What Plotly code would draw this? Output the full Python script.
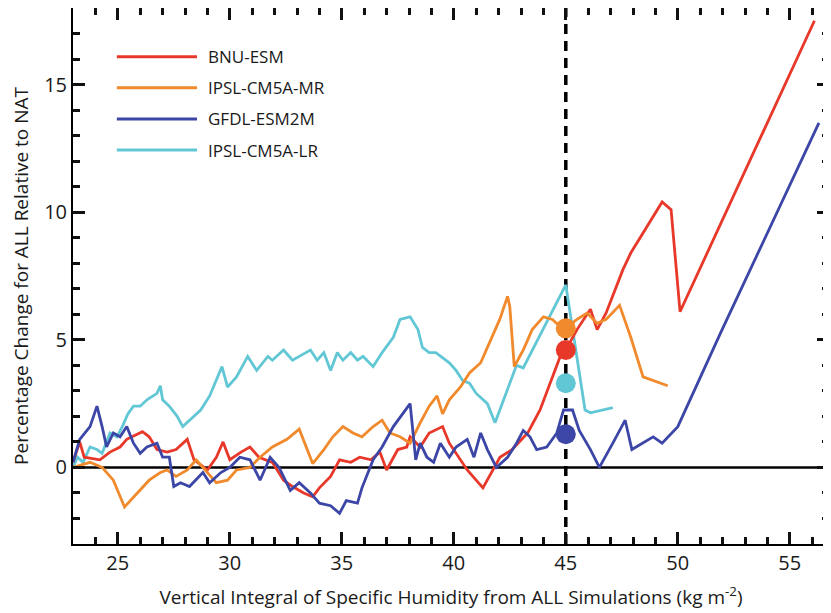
import plotly.graph_objects as go

# BNU-ESM
bnu_x = [23.0, 23.3, 23.5, 24.2, 24.65, 25.1, 25.4, 25.86, 26.1, 26.4, 26.75, 27.2, 27.6, 28.1, 28.4, 29.0,
         29.4, 29.7, 30.0, 30.5, 30.9, 31.3, 31.9, 32.4, 32.8, 33.3, 33.7, 34.0, 34.5, 34.9, 35.4, 35.8,
         36.3, 36.7, 37.0, 37.5, 37.9, 38.05, 38.5, 38.9, 39.5, 39.8, 40.6, 41.3, 42.06, 42.6, 43.3, 43.85,
         44.3, 44.75, 45.0, 45.5, 46.1, 46.4, 46.8, 47.55, 47.9, 49.3, 49.7, 50.1, 56.1]
bnu_y = [0.2, 1.0, 0.4, 0.3, 0.6, 0.8, 1.1, 1.3, 1.4, 1.2, 0.7, 0.6, 0.7, 1.1, 0.3, -0.1,
         0.4, 1.0, 0.3, 0.6, 0.8, 0.4, 0.2, -0.5, -0.75, -1.0, -1.15, -0.8, -0.35, 0.3, 0.2, 0.4,
         0.3, 0.6, -0.1, 0.7, 0.8, 1.2, 0.8, 1.35, 1.6, 0.95, -0.1, -0.8, 0.4, 0.7, 1.35, 2.25,
         3.3, 4.35, 4.6, 5.4, 6.2, 5.4, 6.05, 7.75, 8.4, 10.4, 10.1, 6.1, 17.5]

# IPSL-CM5A-MR
mr_x = [23.0, 23.76, 24.3, 24.8, 25.3, 25.86, 26.4, 26.9, 27.2, 27.6, 28.1, 28.5, 29.0, 29.4, 29.9, 30.3,
        30.9, 31.35, 31.9, 32.55, 33.1, 33.4, 33.7, 34.2, 34.6, 35.05, 35.5, 35.9, 36.4, 36.8, 37.15, 37.6,
        38.05, 38.5, 38.9, 39.25, 39.5, 39.8, 40.3, 40.7, 41.2, 41.6, 42.05, 42.4, 42.5, 42.7, 43.1, 43.5,
        44.0, 44.4, 44.9, 45.5, 45.95, 46.4, 46.8, 47.4, 47.9, 48.45, 49.55]
mr_y = [0.0, 0.2, 0.0, -0.5, -1.55, -1.0, -0.5, -0.2, -0.1, -0.35, -0.1, 0.3, -0.2, -0.6, -0.5, -0.1,
        0.0, 0.4, 0.8, 1.1, 1.5, 0.8, 0.15, 0.7, 1.2, 1.6, 1.35, 1.2, 1.6, 1.85, 1.35, 1.2,
        0.95, 1.75, 2.4, 2.8, 2.1, 2.65, 3.15, 3.7, 4.1, 4.9, 5.8, 6.7, 6.3, 3.95, 4.6, 5.4,
        5.9, 5.8, 5.4, 5.8, 6.05, 5.65, 5.8, 6.35, 5.1, 3.55, 3.2]

# GFDL-ESM2M
gfdl_x = [23.0, 23.3, 23.76, 24.07, 24.3, 24.5, 24.8, 25.1, 25.4, 25.7, 26.0, 26.3, 26.75, 27.0, 27.3, 27.5,
          27.8, 28.2, 28.8, 29.1, 29.6, 30.0, 30.45, 30.9, 31.35, 31.8, 32.2, 32.7, 33.1, 33.6, 34.0, 34.5,
          34.9, 35.2, 35.7, 35.9, 36.4, 36.8, 37.3, 37.7, 38.05, 38.3, 38.5, 38.8, 39.1, 39.4, 39.8, 40.1,
          40.6, 40.9, 41.2, 41.5, 41.9, 42.4, 42.8, 43.1, 43.4, 43.7, 44.15, 44.6, 44.9, 45.3, 45.6, 46.1,
          46.5, 47.1, 47.65, 47.95, 48.45, 48.9, 49.3, 50.0, 51.9, 56.3]
gfdl_y = [0.2, 1.1, 1.6, 2.4, 1.6, 0.8, 1.35, 1.2, 1.6, 0.95, 0.55, 0.8, 0.95, 0.4, 0.4, -0.75,
          -0.6, -0.75, -0.2, -0.6, -0.2, 0.0, 0.4, 0.3, -0.5, 0.4, 0.0, -0.9, -0.6, -1.0, -1.4, -1.5,
          -1.8, -1.3, -1.4, -0.8, 0.3, 0.8, 1.6, 2.1, 2.5, 0.3, 0.95, 0.4, 0.2, 0.95, 0.4, 0.8,
          1.1, 0.4, 1.35, 0.7, 0.0, 0.4, 0.95, 1.45, 1.2, 0.7, 0.8, 1.35, 2.25, 2.25, 1.45, 0.7,
          0.0, 0.95, 1.85, 0.7, 0.95, 1.2, 0.95, 1.6, 5.25, 13.5]

# IPSL-CM5A-LR
lr_x = [23.0, 23.2, 23.45, 23.76, 24.07, 24.3, 24.65, 24.96, 25.2, 25.45, 25.7, 26.0, 26.3, 26.75, 26.9, 27.0,
        27.3, 27.65, 27.9, 28.2, 28.7, 29.1, 29.65, 29.9, 30.3, 30.8, 31.2, 31.7, 31.9, 32.4, 32.8, 33.1,
        33.6, 33.9, 34.2, 34.5, 34.8, 35.05, 35.4, 35.7, 35.95, 36.4, 36.8, 37.3, 37.6, 38.05, 38.4, 38.6,
        38.9, 39.2, 39.5, 39.8, 40.1, 40.4, 40.7, 41.0, 41.5, 41.84, 42.8, 43.1, 45.0, 45.86, 46.1, 47.1]
lr_y = [0.0, 0.4, 0.2, 0.8, 0.7, 0.55, 1.35, 1.2, 1.6, 2.1, 2.4, 2.4, 2.65, 2.9, 3.2, 2.65,
        2.4, 2.0, 1.6, 1.85, 2.25, 2.8, 3.95, 3.15, 3.55, 4.35, 3.8, 4.35, 4.2, 4.6, 4.2, 4.35,
        4.6, 4.2, 4.5, 3.8, 4.5, 4.2, 4.5, 4.2, 4.35, 3.95, 4.5, 5.1, 5.8, 5.9, 5.4, 4.7,
        4.5, 4.5, 4.3, 4.1, 3.8, 3.4, 3.3, 2.9, 2.5, 1.75, 4.0, 3.9, 7.15, 2.25, 2.14, 2.34]

models = ['BNU-ESM', 'IPSL-CM5A-MR', 'GFDL-ESM2M', 'IPSL-CM5A-LR']
colors = ['#E8382A', '#F08A2C', '#3B46A6', '#62C7D5']
series = [(bnu_x, bnu_y), (mr_x, mr_y), (gfdl_x, gfdl_y), (lr_x, lr_y)]

# values at 45 kg m-2
dot_x = 45
dot_y = [4.6, 5.45, 1.3, 3.3]

xmin, xmax = 23, 56.75
ymin, ymax = -3, 18

fig = go.Figure()
fig.add_trace(go.Scatter(x=[xmin, xmax], y=[0, 0], mode='lines', showlegend=False, hoverinfo='skip',
                         line=dict(color='black', width=2.5)))
fig.add_trace(go.Scatter(x=[dot_x, dot_x], y=[ymin, ymax], mode='lines', showlegend=False, hoverinfo='skip',
                         line=dict(color='black', width=3.5, dash='10px,7px')))

# draw order: cyan at back
for i in [3, 0, 1, 2]:
    xs, ys = series[i]
    fig.add_trace(go.Scatter(x=xs, y=ys, mode='lines', name=models[i],
                             line=dict(color=colors[i], width=2.8), showlegend=False))

for i in [1, 0, 3, 2]:
    fig.add_trace(go.Scatter(x=[dot_x], y=[dot_y[i]], mode='markers',
                             marker=dict(color=colors[i], size=20, line=dict(width=0)),
                             showlegend=False))

# legend drawn by hand, long line samples like the original
leg_y = [0.909, 0.851, 0.793, 0.735]
for i, m in enumerate(models):
    fig.add_shape(type='line', xref='paper', yref='paper', x0=0.058, x1=0.164,
                  y0=leg_y[i], y1=leg_y[i], line=dict(color=colors[i], width=3))
    fig.add_annotation(x=0.176, y=leg_y[i], xref='paper', yref='paper', text=m,
                       showarrow=False, xanchor='left', yanchor='middle',
                       font=dict(size=17, color='#1a1a1a'))

fig.update_xaxes(range=[xmin, xmax], tickvals=[25, 30, 35, 40, 45, 50, 55],
                 showline=True, linecolor='black', linewidth=2, mirror='allticks',
                 ticks='inside', ticklen=12, tickwidth=3, tickcolor='#111111',
                 minor=dict(ticks='inside', dtick=1, ticklen=7, tickwidth=3, tickcolor='#111111'),
                 showgrid=False, zeroline=False, tickfont=dict(size=20, color='#1a1a1a'),
                 title=dict(text='Vertical Integral of Specific Humidity from ALL Simulations (kg m<sup>-2</sup>)',
                            font=dict(size=19, color='#1a1a1a'), standoff=16))
fig.update_yaxes(range=[ymin, ymax], tickvals=[0, 5, 10, 15],
                 showline=True, linecolor='black', linewidth=2, mirror='allticks',
                 ticks='inside', ticklen=12, tickwidth=3, tickcolor='#111111',
                 minor=dict(ticks='inside', dtick=1, ticklen=7, tickwidth=3, tickcolor='#111111'),
                 showgrid=False, zeroline=False, tickfont=dict(size=20, color='#1a1a1a'),
                 title=dict(text='Percentage Change for ALL Relative to NAT',
                            font=dict(size=19, color='#1a1a1a'), standoff=12))

# the page body adds 8px on the left and top, so the figure is made a bit smaller
fig.update_layout(width=823, height=605, template='none',
                  margin=dict(l=65, r=2, t=0, b=69))

fig.write_html('out.html')
